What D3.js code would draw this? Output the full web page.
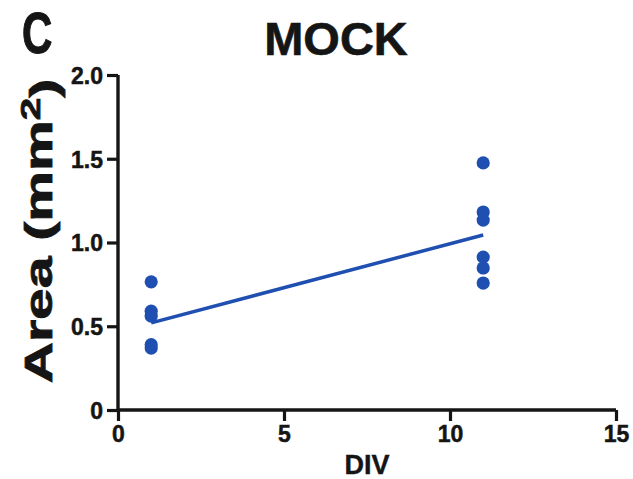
<!DOCTYPE html>
<html>
<head>
<meta charset="utf-8">
<script src="https://cdn.jsdelivr.net/npm/d3@7"></script>
<style>
  html, body { margin: 0; padding: 0; background: #fff; }
  svg text { font-family: "Liberation Sans", Arial, Helvetica, sans-serif; font-weight: bold; fill: #151515; }
</style>
</head>
<body>
<script>
// ---- data ----
const xDiv1 = [1, 1, 1, 1, 1];
const areaDiv1 = [0.765, 0.59, 0.56, 0.39, 0.37];
const xDiv11 = [11, 11, 11, 11, 11, 11];
const areaDiv11 = [1.475, 1.182, 1.134, 0.913, 0.848, 0.758];
const fitX = [1, 11];
const fitY = [0.52, 1.045];
const xTicks = [0, 5, 10, 15];
const yTicks = [0, 0.5, 1.0, 1.5, 2.0];
const yTickLabels = ["0", "0.5", "1.0", "1.5", "2.0"];
const title = "MOCK";
const panelLetter = "C";
const xLabel = "DIV";

const W = 633, H = 479;
const blue = "#1f4fb0";
const svg = d3.select("body").append("svg").attr("width", W).attr("height", H);

const x = d3.scaleLinear().domain([0, 15]).range([118, 616]);
const y = d3.scaleLinear().domain([0, 2]).range([410, 75]);

// axes
const xAxis = d3.axisBottom(x).tickValues(xTicks).tickSize(11).tickPadding(5).tickFormat(d3.format("d"));
const yAxis = d3.axisLeft(y).tickValues(yTicks).tickSize(11).tickPadding(4)
  .tickFormat((d, i) => yTickLabels[i]);

const gx = svg.append("g").attr("transform", `translate(0,${y(0)})`).call(xAxis);
const gy = svg.append("g").attr("transform", `translate(${x(0)},0)`).call(yAxis);

[gx, gy].forEach(g => {
  g.select(".domain").attr("stroke", "#151515").attr("stroke-width", 3.4);
  g.selectAll(".tick line").attr("stroke", "#151515").attr("stroke-width", 3.2);
  g.selectAll(".tick text").style("font-size", "23px").attr("fill", "#151515")
    .attr("stroke", "#151515").attr("stroke-width", 0.5);
});
gx.select(".domain").attr("d", `M${x(0)},0H${x(15)}`);
gy.select(".domain").attr("d", `M0,${y(2)}V${y(0)}`);
gy.selectAll(".tick text").attr("dy", "0.36em");

// fit line
svg.append("line")
  .attr("x1", x(fitX[0])).attr("y1", y(fitY[0]))
  .attr("x2", x(fitX[1])).attr("y2", y(fitY[1]))
  .attr("stroke", blue).attr("stroke-width", 3.5);

// points
const pts = xDiv1.map((d, i) => ({x: d, y: areaDiv1[i]}))
  .concat(xDiv11.map((d, i) => ({x: d, y: areaDiv11[i]})));
svg.append("g").selectAll("circle").data(pts).join("circle")
  .attr("cx", d => x(d.x)).attr("cy", d => y(d.y)).attr("r", 6.6)
  .attr("fill", blue);

// title
svg.append("text").attr("x", 336).attr("y", 55).attr("text-anchor", "middle")
  .style("font-size", "47px").attr("stroke", "#151515").attr("stroke-width", 0.6).text(title);

// panel letter
svg.append("text").attr("transform", "translate(22,53) scale(0.84,1.15)")
  .style("font-size", "50px").attr("stroke", "#151515").attr("stroke-width", 1).text(panelLetter);

// x label
svg.append("text").attr("x", 367).attr("y", 474).attr("text-anchor", "middle")
  .style("font-size", "27px").attr("stroke", "#151515").attr("stroke-width", 0.4).text(xLabel);

// y label
const yl = svg.append("text")
  .attr("transform", "translate(52,231) rotate(-90) scale(1.5,1)")
  .attr("text-anchor", "middle")
  .attr("stroke", "#151515").attr("stroke-width", 0.8)
  .style("font-size", "38px");
yl.append("tspan").text("Area (mm");
yl.append("tspan").attr("dy", "-0.45em").style("font-size", "27px").text("2");
yl.append("tspan").attr("dy", "0.45em").text(")");
</script>
</body>
</html>
